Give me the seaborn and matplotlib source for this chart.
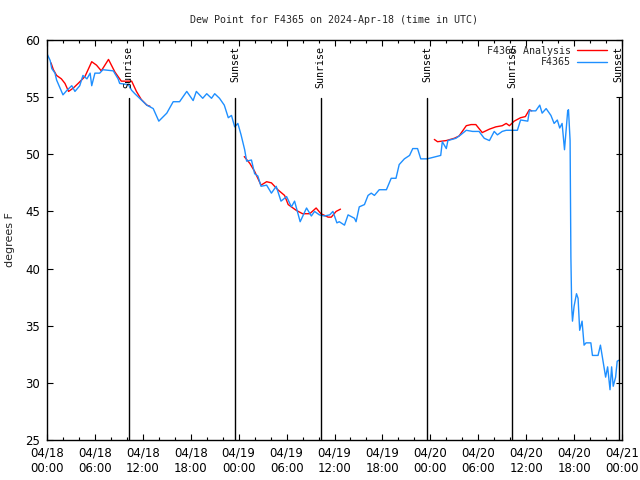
import matplotlib
matplotlib.use("Agg")
import matplotlib.pyplot as plt
import matplotlib.dates as mdates
from matplotlib.lines import Line2D
import numpy as np
import pandas as pd
import seaborn as sns

# ---- data (hours after 2024-04-18 00:00 UTC, dew point in F) ----
obs_hours = [0.0, 0.4, 0.6, 1.0, 1.2, 2.0, 2.5, 3.1, 3.5, 4.1, 4.5, 5.0, 5.4, 5.6, 6.0, 6.6, 7.0,
             8.3, 8.9, 9.1, 10.2, 10.6, 11.0, 11.6, 12.5, 13.3, 14.0, 15.0, 15.8, 16.6, 17.5, 18.3,
             18.7, 19.5, 20.0, 20.6, 21.0, 21.6, 22.2, 22.7, 23.1, 23.5, 23.9, 24.3, 24.75, 25.0,
             25.6, 26.0, 26.4, 26.8, 27.5, 28.1, 28.7, 29.3, 30.0, 30.6, 31.0, 31.7, 32.5, 33.1,
             33.5, 34.1, 34.75, 35.4, 35.8, 36.3, 36.6, 37.25, 37.7, 38.5, 38.7, 39.1, 39.75, 40.2,
             40.6, 41.0, 41.6, 42.5, 43.1, 43.7, 44.1, 44.75, 45.4, 45.8, 46.4, 46.8, 47.6, 49.3,
             49.5, 50.0, 50.2, 51.2, 51.8, 52.5, 53.3, 54.1, 54.75, 55.4, 56.0, 56.4, 57.0, 57.5,
             58.3, 58.9, 59.3, 60.2, 60.4, 61.2, 61.7, 62.0, 62.5, 63.1, 63.5, 63.9, 64.2, 64.5,
             64.8, 65.2, 65.3, 65.5, 65.6, 65.7, 65.8, 66.0, 66.3, 66.5, 66.7, 67.0, 67.25, 67.5,
             68.1, 68.3, 69.0, 69.3, 69.6, 69.95, 70.2, 70.5, 70.7, 70.9, 71.2, 71.4, 71.7]
obs_values = [58.8, 58.2, 57.5, 57.1, 56.5, 55.2, 55.6, 56.0, 55.5, 56.0, 56.9, 56.6, 57.1, 56.0,
              57.1, 57.1, 57.4, 57.3, 56.6, 56.2, 56.1, 55.6, 55.3, 54.9, 54.3, 54.0, 52.9, 53.6,
              54.6, 54.6, 55.5, 54.7, 55.5, 54.9, 55.3, 54.9, 55.3, 54.9, 54.3, 53.2, 53.4, 52.4,
              52.7, 51.7, 50.4, 49.4, 49.5, 48.3, 48.1, 47.2, 47.3, 46.6, 47.2, 45.9, 46.3, 45.4,
              45.9, 44.1, 45.3, 44.6, 45.0, 44.7, 44.6, 44.7, 45.0, 44.0, 44.1, 43.8, 44.7, 44.4,
              44.1, 45.4, 45.6, 46.4, 46.6, 46.4, 46.9, 46.9, 47.9, 47.9, 49.1, 49.6, 49.9, 50.5,
              50.5, 49.6, 49.6, 49.9, 51.1, 50.5, 51.2, 51.4, 51.7, 52.1, 52.0, 52.0, 51.4, 51.2,
              52.0, 51.7, 52.0, 52.1, 52.1, 52.1, 53.0, 52.9, 53.8, 53.8, 54.3, 53.6, 54.0, 53.4,
              52.7, 53.0, 52.3, 52.7, 50.4, 53.8, 53.9, 51.2, 41.0, 36.7, 35.4, 36.7, 37.8, 37.4,
              34.6, 35.4, 33.3, 33.5, 33.5, 32.4, 32.4, 33.3, 32.0, 30.5, 31.4, 29.4, 31.4, 29.7,
              30.5, 31.9, 32.0]

ana_hours_1 = [0.5, 0.8, 1.2, 1.8, 2.25, 2.7, 3.3, 3.9, 4.75, 5.6, 6.2, 6.8, 7.7, 8.5, 9.3,
               10.6, 11.2, 11.8, 12.5, 12.9]
ana_values_1 = [58.0, 57.4, 56.9, 56.6, 56.2, 55.5, 55.8, 56.2, 56.8, 58.1, 57.8, 57.3, 58.3,
                57.2, 56.4, 56.4, 55.5, 54.8, 54.3, 54.2]
ana_hours_2 = [24.7, 25.4, 26.0, 26.8, 27.5, 28.1, 28.9, 29.75, 30.2, 30.6, 31.2, 32.0, 32.9,
               33.7, 34.3, 35.2, 35.6, 36.2, 36.75]
ana_values_2 = [49.8, 49.2, 48.5, 47.3, 47.6, 47.5, 46.9, 46.4, 45.6, 45.4, 45.1, 44.8, 44.8,
                45.3, 44.8, 44.5, 44.5, 45.0, 45.2]
ana_hours_3 = [48.5, 48.9, 50.0, 51.0, 51.6, 52.5, 53.1, 53.7, 54.5, 55.4, 56.2, 57.0, 57.5,
               57.9, 58.5, 59.3, 59.9, 60.4, 60.7]
ana_values_3 = [51.3, 51.1, 51.2, 51.4, 51.6, 52.5, 52.6, 52.6, 51.9, 52.2, 52.4, 52.5, 52.7,
                52.5, 52.9, 53.2, 53.3, 53.9, 53.8]

sun_hours = [10.25, 23.6, 34.25, 47.6, 58.25, 71.6]
sun_labels = ["Sunrise", "Sunset", "Sunrise", "Sunset", "Sunrise", "Sunset"]

series_names = ["F4365 Analysis", "F4365"]
series_colors = ["#ff0000", "#1e8fff"]

start = pd.Timestamp("2024-04-18 00:00")
to_time = lambda hrs: start + pd.to_timedelta(np.asarray(hrs, dtype=float), unit="h")

obs_df = pd.DataFrame({"time": to_time(obs_hours), "value": obs_values})
ana_df = pd.concat([
    pd.DataFrame({"time": to_time(h), "value": v, "seg": i})
    for i, (h, v) in enumerate([(ana_hours_1, ana_values_1),
                                (ana_hours_2, ana_values_2),
                                (ana_hours_3, ana_values_3)])
])

sns.set_style("ticks")
plt.rcParams["font.family"] = ["DejaVu Sans"]

fig = plt.figure(figsize=(6.4, 4.8), dpi=100)
ax = fig.add_axes([47 / 640, 40 / 480, 575 / 640, 400 / 480])

sns.lineplot(data=ana_df, x="time", y="value", units="seg", estimator=None,
             color=series_colors[0], linewidth=1.0, ax=ax, legend=False)
sns.lineplot(data=obs_df, x="time", y="value", color=series_colors[1], linewidth=1.0,
             ax=ax, legend=False)

ymax_frac = (440 - 98) / 400
for h, lab in zip(sun_hours, sun_labels):
    t = to_time([h])[0]
    ax.axvline(t, ymin=0, ymax=ymax_frac, color="black", linewidth=1.0)
    ax.text(t, 59.5, lab, rotation=90, ha="center", va="top",
            family="DejaVu Sans Mono", fontsize=7.2, color="black")

ax.set_xlim(start, start + pd.Timedelta(hours=72))
ax.set_ylim(25, 60)
ax.set_yticks(np.arange(25, 61, 5))
ax.xaxis.set_major_locator(mdates.HourLocator(byhour=[0, 6, 12, 18]))
ax.xaxis.set_minor_locator(mdates.HourLocator(byhour=range(0, 24, 2)))
ax.xaxis.set_major_formatter(mdates.DateFormatter("%m/%d\n%H:%M"))
ax.tick_params(axis="both", which="both", direction="in", top=True, right=True,
               labelsize=8.5, colors="black")
ax.tick_params(which="major", length=4, width=0.8, pad=5)
ax.tick_params(which="minor", length=2.5, width=0.8)
for s in ax.spines.values():
    s.set_linewidth(1.0)
    s.set_color("black")

ax.set_xlabel("")
ax.set_ylabel("degrees F", fontsize=8, labelpad=7)
ax.set_title("Dew Point for F4365 on 2024-Apr-18 (time in UTC)",
             family="DejaVu Sans Mono", fontsize=7.2, pad=12)

handles = [Line2D([], [], color=c, linewidth=1.0) for c in series_colors]
leg = ax.legend(handles, series_names, loc="upper right", frameon=False, markerfirst=False,
                prop={"family": "DejaVu Sans Mono", "size": 7.2},
                handlelength=3.0, handletextpad=0.6, labelspacing=0.15,
                borderaxespad=0.2, bbox_to_anchor=(0.985, 1.0))

fig.savefig("out.png", dpi=100)
